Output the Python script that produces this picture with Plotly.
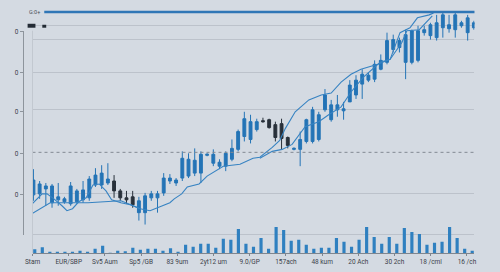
import numpy as np
import plotly.graph_objects as go

# ---------------- data ----------------
opens  = [78,79,84,70,73,71,69,71,73,75,88,88,90,92,82,75,76,60,60,75,75,80,92,90,
          95,97,100,100,118,110,107,107,114,124,137,134,144,153,154,149,150,136,124,124,
          132,132,134,164,154,164,163,172,179,190,194,195,205,212,225,227,212,212,214,242,
          239,237,247,246,245,249,242,247]
highs  = [104,92,90,89,90,76,91,84,92,97,105,108,110,98,84,82,82,76,80,82,82,100,99,95,
          122,120,125,122,120,124,114,122,134,144,162,159,155,156,155,152,155,137,126,142,
          155,167,162,185,174,179,172,194,199,205,202,214,220,242,240,237,245,245,249,249,
          252,260,262,260,262,254,260,254]
lows   = [72,74,67,65,67,69,67,69,70,72,86,84,88,75,72,69,65,52,48,72,60,77,89,87,
          92,95,97,90,117,107,104,102,112,122,132,130,142,151,145,132,124,125,123,107,
          130,130,132,162,152,157,154,172,175,175,192,192,204,210,222,222,195,210,212,239,
          235,234,237,242,237,247,234,245]
closes = [93,89,87,87,76,74,87,82,83,94,98,100,94,82,75,73,68,72,77,79,79,95,95,93,
          115,114,113,119,119,119,111,120,125,142,155,152,152,152,146,136,135,128,125,134,
          154,164,159,179,169,169,165,189,194,200,199,210,214,234,235,234,240,244,244,245,
          250,252,260,250,260,252,257,252]
# candles flagged as pull-back sessions (drawn in the dark series)
pullback = [False]*13 + [True]*4 + [False]*20 + [True]*5 + [False]*30

fast_ma_idx = [-0.2,1.4,2.2,3.3,4.6,5.4,6.3,7.3,8.5,9.6,10.6,11.7,12.6,14.1,15.6,17.2,18.8,
               20.4,22.0,22.7,23.9,24.8,26.7,28.0,29.4,30.6,33.3,35.4,36.5,38.5,39.7,40.6,
               42.2,44.4,46.4,48.0,49.6,51.2,52.8,55.5,57.5,59.1,60.7,61.9,63.8,64.5]
fast_ma = [69,79,79,74,67,62,64,71,75,88,89,82,73,70,68,64,62,66,70,74,79,86,89,97,102,107,
           109,115,116,126,133,145,162,174,179,181,192,200,205,210,215,242,247,257,260,262]
slow_ma_idx = [-0.2,2.7,6.2,8.8,11.4,14.1,16.1,17.2,None,36.5,38.5,40.1,41.7,43.8,46.0,47.6,
               49.6,51.2,53.2,55.9,57.5,59.4,60.2,62.2,63.3,64.3]
slow_ma = [59,70,70,70,71,72,67,64,None,115,122,124,129,147,152,159,167,182,197,212,215,
           232,244,245,252,259]

volume = [4,6,1.5,1.5,1,1.5,2.5,1.5,4.5,7.5,0.5,2.5,2,5.5,3.5,4.5,4.5,2.5,5,1.5,8.5,6.5,
          9.5,9.5,5.5,14.5,13.5,24.5,9.5,6.5,15.5,4.5,26.5,23.5,12.5,13.5,8.5,4.5,5.5,5.5,
          15.5,11.5,6.5,13.5,26.5,16.5,9.5,16.5,9.5,25.5,21.5,19.5,8.5,10.5,11.5,26.5,15.5,
          4.5,2.5]

x_labels = ["Stam", "EUR/SBP", "Sv5 Aum", "Sp5 /GB", "83 9um", "2yt12 um", "9.0/GP",
            "157ach", "48 kum", "20 Ach", "30 2ch", "18 /cml", "16 /ch"]
grid_levels = [249, 235, 202, 164, 79, 38]
mid_level = 121
resistance_level = 263
y_tick_vals = [243, 202, 162, 120, 78]
y_tick_text = ["0"] * 5
level_label = "G:0+"

# ---------------- figure ----------------
BLUE = "#2474b6"
DARK = "#28303a"
LINE = "#3783c2"
FONT = "Roboto"

idx = np.arange(len(opens))
pb = np.array(pullback)
o, h, l, c = map(np.array, (opens, highs, lows, closes))

fig = go.Figure()

def candle(mask, color):
    return go.Candlestick(
        x=idx[mask], open=o[mask], high=h[mask], low=l[mask], close=c[mask],
        increasing=dict(line=dict(color=color, width=1), fillcolor=color),
        decreasing=dict(line=dict(color=color, width=1), fillcolor=color),
        whiskerwidth=0, showlegend=False, hoverinfo="skip",
        xaxis="x", yaxis="y")

fig.add_trace(go.Scatter(x=fast_ma_idx, y=fast_ma, mode="lines", line=dict(color=LINE, width=1.1),
                         showlegend=False, hoverinfo="skip", xaxis="x", yaxis="y"))
fig.add_trace(go.Scatter(x=slow_ma_idx, y=slow_ma, mode="lines", line=dict(color=LINE, width=1.1),
                         showlegend=False, hoverinfo="skip", connectgaps=False, xaxis="x", yaxis="y"))
fig.add_trace(candle(~pb, BLUE))
fig.add_trace(candle(pb, DARK))

fig.add_trace(go.Bar(x=np.arange(len(volume)), y=volume, marker=dict(color="#2f80c0", line=dict(width=0)),
                     width=0.42, showlegend=False, hoverinfo="skip", xaxis="x2", yaxis="y2"))

# dummy trace so the free left axis gets drawn
fig.add_trace(go.Scatter(x=[0], y=[100], mode="markers", marker=dict(opacity=0),
                         showlegend=False, hoverinfo="skip", xaxis="x3", yaxis="y3"))

n_lab = len(x_labels)
fig.update_layout(
    width=500, height=272, margin=dict(l=0, r=0, t=0, b=0),
    paper_bgcolor="#d4dae2", plot_bgcolor="rgba(0,0,0,0)",
    font=dict(family=FONT, size=6.5, color="#3c424a"),
    boxgap=0.34,
    xaxis=dict(domain=[0.05, 0.952], range=[-0.15, 71.1], anchor="y",
               showgrid=False, zeroline=False, showticklabels=False, showline=False,
               rangeslider=dict(visible=False)),
    yaxis=dict(domain=[0, 1], range=[0, 272], anchor="x", tickvals=grid_levels,
               showticklabels=False, showgrid=True, gridcolor="#bcc2cb", gridwidth=1,
               zeroline=False, showline=False, ticks=""),
    xaxis2=dict(domain=[0.05, 0.952], range=[-0.3, 58.3], anchor="y2",
                showgrid=False, zeroline=False, showline=True, linecolor="#7f868f", linewidth=1,
                ticks="outside", ticklen=2, tickcolor="#7f868f",
                tickvals=list(np.linspace(-0.3, 57.3, n_lab)), ticktext=x_labels,
                tickfont=dict(size=6.5, color="#3c424a", family=FONT)),
    yaxis2=dict(domain=[19/272, 59/272], range=[0, 40], anchor="x2", visible=False),
    xaxis3=dict(domain=[0.05, 0.952], range=[0, 1], anchor="y3", visible=False),
    yaxis3=dict(domain=[37/272, 244/272], range=[37, 244], anchor="free", position=0.03,
                showline=True, linecolor="#8d949c", linewidth=1, showgrid=False, zeroline=False,
                ticks="outside", ticklen=3, tickcolor="#8d949c",
                tickvals=y_tick_vals, ticktext=y_tick_text,
                tickfont=dict(size=6.5, color="#3c424a", family=FONT)),
)

# dotted mid level
fig.add_shape(type="line", xref="paper", yref="y", x0=0.05, x1=0.952, y0=mid_level, y1=mid_level,
              line=dict(color="#838a93", width=1, dash="dot"))
# faint left plot edge
fig.add_shape(type="line", xref="paper", yref="paper", x0=0.05, x1=0.05, y0=19/272, y1=244/272,
              line=dict(color="#c2c8d0", width=1))
# resistance level line
fig.add_shape(type="line", xref="paper", yref="y", x0=0.074, x1=0.952,
              y0=resistance_level, y1=resistance_level, line=dict(color="#2f76b6", width=2.5))
fig.add_annotation(x=0.069, y=resistance_level, xref="paper", yref="y", text=level_label,
                   xanchor="right", showarrow=False,
                   font=dict(size=5.5, color="#4a5058", family=FONT))
# small legend marks
fig.add_shape(type="rect", xref="paper", yref="paper", x0=20/500, x1=28/500, y0=1-25/272, y1=1-21/272,
              fillcolor="#232b35", line=dict(width=0))
fig.add_shape(type="rect", xref="paper", yref="paper", x0=35/500, x1=39/500, y0=1-25/272, y1=1-22/272,
              fillcolor="#232b35", line=dict(width=0))

fig.write_html("out.html")
